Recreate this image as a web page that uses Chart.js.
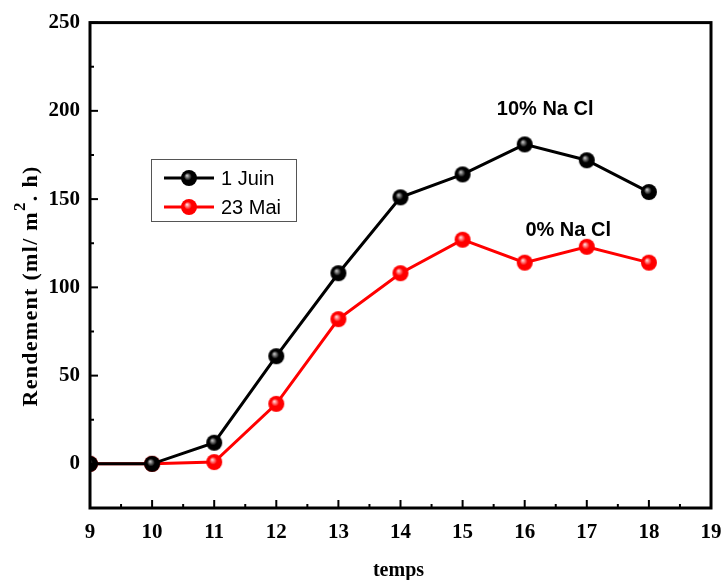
<!DOCTYPE html>
<html><head><meta charset="utf-8">
<script src="https://cdn.jsdelivr.net/npm/chart.js@4"></script>
<style>html,body{margin:0;padding:0;background:#fff}#wrap{width:723px;height:580px;position:relative}</style>
</head><body><div id="wrap"><canvas id="c" width="723" height="580"></canvas></div>
<script>
const hours = [9, 10, 11, 12, 13, 14, 15, 16, 17, 18];
const juin1 = [0, 0, 12, 61, 108, 151, 164, 181, 172, 154];
const mai23 = [0, 0, 1, 34, 82, 108, 127, 114, 123, 114];
const seriesNames = ['1 Juin', '23 Mai'];
const yTicks = [0, 50, 100, 150, 200, 250];
const xTicks = [9, 10, 11, 12, 13, 14, 15, 16, 17, 18, 19];
const notes = [{text: '10% Na Cl', x: 16.33, y: 201}, {text: '0% Na Cl', x: 16.7, y: 132}];
const yTitleParts = ['Rendement (ml/ m', '2', '. h)'];
const xTitle = 'temps';

function sphere(base, hi, r) {
  const s = 2 * r + 2, cv = document.createElement('canvas');
  cv.width = s; cv.height = s;
  const g = cv.getContext('2d');
  const c = s / 2;
  const gr = g.createRadialGradient(c - r * 0.25, c - r * 0.3, 0.5, c, c, r);
  gr.addColorStop(0, hi); gr.addColorStop(0.45, base); gr.addColorStop(1, base);
  g.fillStyle = gr; g.beginPath(); g.arc(c, c, r, 0, Math.PI * 2); g.fill();
  return cv;
}
const blackBall = sphere('#000', '#bbbbbb', 8);
const redBall = sphere('#ff0000', '#ffd0d0', 8);

const pts = (ys) => hours.map((h, i) => ({x: h, y: ys[i]}));
const serif = '"Liberation Serif", "Times New Roman", serif';

const deco = {
  id: 'deco',
  afterDraw(chart) {
    const {ctx, chartArea: a, scales: {x, y}} = chart;
    ctx.save();
    ctx.strokeStyle = '#000'; ctx.lineWidth = 3;
    ctx.strokeRect(a.left, a.top, a.right - a.left, a.bottom - a.top);
    ctx.lineWidth = 2;
    for (let v = 9; v <= 19; v += 0.5) {
      const px = x.getPixelForValue(v), len = Number.isInteger(v) ? 8 : 4;
      ctx.beginPath(); ctx.moveTo(px, a.bottom); ctx.lineTo(px, a.bottom - len); ctx.stroke();
    }
    for (let v = -25; v <= 250; v += 25) {
      const py = y.getPixelForValue(v), len = v % 50 === 0 ? 8 : 4;
      ctx.beginPath(); ctx.moveTo(a.left, py); ctx.lineTo(a.left + len, py); ctx.stroke();
    }
    // legend
    ctx.lineWidth = 1; ctx.strokeStyle = '#555';
    ctx.strokeRect(151.5, 159.5, 145, 62);
    const rows = [[178, '#000', blackBall], [207, '#ff0000', redBall]];
    ctx.font = '20px "Liberation Sans", Arial, sans-serif';
    ctx.textBaseline = 'middle'; ctx.textAlign = 'left';
    rows.forEach(([ry, col, img], i) => {
      ctx.strokeStyle = col; ctx.lineWidth = 3;
      ctx.beginPath(); ctx.moveTo(164, ry); ctx.lineTo(214, ry); ctx.stroke();
      ctx.drawImage(img, 189 - img.width / 2, ry - img.height / 2);
      ctx.fillStyle = '#000';
      ctx.fillText(seriesNames[i], 221, ry + 1);
    });
    // annotations
    ctx.font = 'bold 20px "Liberation Sans", Arial, sans-serif';
    ctx.textAlign = 'center';
    notes.forEach(n => ctx.fillText(n.text, x.getPixelForValue(n.x), y.getPixelForValue(n.y)));
    // x title
    ctx.font = 'bold 20px ' + serif;
    ctx.fillText(xTitle, (a.left + a.right) / 2 - 2, 571);
    // y title with superscript
    ctx.letterSpacing = '1.3px';
    const big = 'bold 22px ' + serif, small = 'bold 17px ' + serif;
    ctx.font = big; const w1 = ctx.measureText(yTitleParts[0]).width, w3 = ctx.measureText(yTitleParts[2]).width;
    ctx.font = small; const w2 = ctx.measureText(yTitleParts[1]).width;
    const total = w1 + w2 + w3;
    ctx.translate(30, 286); ctx.rotate(-Math.PI / 2);
    ctx.textAlign = 'left'; ctx.textBaseline = 'alphabetic';
    let cx = -total / 2;
    ctx.font = big; ctx.fillText(yTitleParts[0], cx, 7); cx += w1;
    ctx.font = small; ctx.fillText(yTitleParts[1], cx, -5); cx += w2;
    ctx.font = big; ctx.fillText(yTitleParts[2], cx, 7);
    ctx.restore();
  }
};

new Chart(document.getElementById('c'), {
  type: 'line',
  data: {
    datasets: [
      {label: seriesNames[0], data: pts(juin1), borderColor: '#000', borderWidth: 3,
       pointStyle: blackBall, pointRadius: 8, tension: 0},
      {label: seriesNames[1], data: pts(mai23), borderColor: '#ff0000', borderWidth: 3,
       pointStyle: redBall, pointRadius: 8, tension: 0}
    ]
  },
  options: {
    responsive: false, animation: false,
    layout: {padding: {top: 21, right: 0, left: 0, bottom: 0}},
    plugins: {legend: {display: false}, tooltip: {enabled: false}},
    scales: {
      x: {type: 'linear', min: 9, max: 19,
        afterBuildTicks: ax => { ax.ticks = xTicks.map(v => ({value: v})); },
        afterFit: ax => { ax.height = 72; ax.paddingRight = 12; },
        grid: {display: false, drawTicks: false}, border: {display: false},
        ticks: {padding: 12, color: '#000', font: {family: serif, weight: 'bold', size: 21}},
        title: {display: false}
      },
      y: {type: 'linear', min: -25, max: 250,
        afterBuildTicks: ax => { ax.ticks = yTicks.map(v => ({value: v})); },
        afterFit: ax => { ax.width = 90; },
        grid: {display: false, drawTicks: false}, border: {display: false},
        ticks: {padding: 10, color: '#000', font: {family: serif, weight: 'bold', size: 21}},
        title: {display: false}
      }
    }
  },
  plugins: [deco]
});
</script></body></html>
